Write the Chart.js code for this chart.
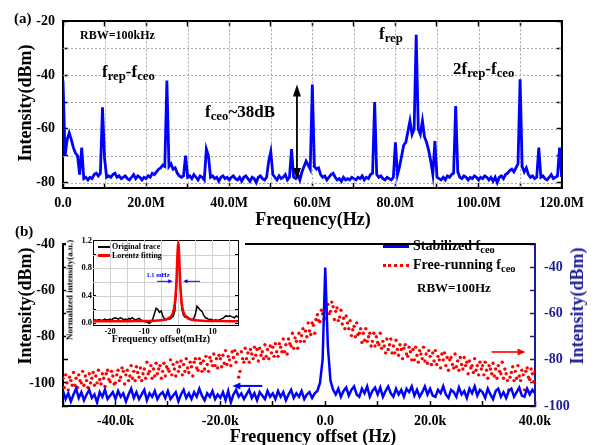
<!DOCTYPE html>
<html>
<head>
<meta charset="utf-8">
<script src="https://cdn.jsdelivr.net/npm/chart.js@4.4.0/dist/chart.umd.min.js"></script>
<style>
  body { margin: 0; background: #fff; }
  #wrap { position: relative; width: 596px; height: 445px; overflow: hidden;
          font-family: 'Liberation Serif', serif; font-weight: bold; color: #000; }
  canvas { position: absolute; }
  .t { position: absolute; white-space: nowrap; line-height: 1; }
  .l { transform: translate(0, -50%); }
  .c { transform: translate(-50%, -50%); }
  .v { transform: translate(-50%, -50%) rotate(-90deg); }
  sub { font-size: 0.75em; vertical-align: -0.3em; line-height: 0; }
</style>
</head>
<body>
<div id="wrap">
  <canvas id="chartA" width="596" height="225" style="left:0;top:0"></canvas>
  <canvas id="chartB" width="596" height="223" style="left:0;top:222px"></canvas>
  <canvas id="chartC" width="179" height="114" style="left:66px;top:231px"></canvas>

  <!-- panel (a) texts -->
  <div class="t l" style="left:14px;top:18px;font-size:15px">(a)</div>
  <div class="t l" style="left:80px;top:35px;font-size:12px">RBW=100kHz</div>
  <div class="t l" style="left:102px;top:71px;font-size:17px">f<sub>rep</sub>-f<sub>ceo</sub></div>
  <div class="t l" style="left:205px;top:111px;font-size:17px">f<sub>ceo</sub>~38dB</div>
  <div class="t l" style="left:379px;top:33px;font-size:17px">f<sub>rep</sub></div>
  <div class="t l" style="left:453px;top:68px;font-size:17px">2f<sub>rep</sub>-f<sub>ceo</sub></div>
  <div class="t v" style="left:25px;top:103px;font-size:18px">Intensity(dBm)</div>
  <div class="t c" style="left:313px;top:219px;font-size:18px">Frequency(Hz)</div>

  <!-- panel (b) texts -->
  <div class="t l" style="left:15px;top:231px;font-size:15px">(b)</div>
  <div class="t v" style="left:25px;top:306px;font-size:18px">Intensity(dBm)</div>
  <div class="t v" style="left:577px;top:306px;font-size:18px;color:#1c1c94">Intensity(dBm)</div>
  <div class="t c" style="left:313px;top:436px;font-size:18px">Frequency offset (Hz)</div>
  <div style="position:absolute;left:383px;top:245px;width:26px;height:3px;background:#0000ff"></div>
  <div class="t l" style="left:413px;top:246px;font-size:14px">Stabilized f<sub>ceo</sub></div>
  <div style="position:absolute;left:383px;top:264px;width:26px;height:0;border-top:3px dotted #ff0000"></div>
  <div class="t l" style="left:413px;top:265px;font-size:14px">Free-running f<sub>ceo</sub></div>
  <div class="t l" style="left:417px;top:287px;font-size:13px">RBW=100Hz</div>

  <!-- inset texts -->
  <div style="position:absolute;left:98px;top:246px;width:12px;height:2px;background:#000"></div>
  <div class="t l" style="left:112px;top:247px;font-size:8px">Original trace</div>
  <div style="position:absolute;left:98px;top:254px;width:12px;height:3px;background:#ff0000"></div>
  <div class="t l" style="left:112px;top:256px;font-size:8px">Lorentz fitting</div>
  <div class="t v" style="left:70px;top:290px;font-size:9px">Normalized intensity(a.u.)</div>
  <div class="t c" style="left:161px;top:339px;font-size:10px">Frequency offset(mHz)</div>
  <div class="t c" style="left:158px;top:275px;font-size:6.5px;color:#0000ff">1.1 mHz</div>
</div>

<script>
Chart.defaults.font.family = "'Liberation Serif', serif";
Chart.defaults.font.weight = 'bold';
Chart.defaults.color = '#000';

/* =========================
   DATA - panel (a), RF spectrum 0-120 MHz, 0.5 MHz step
========================= */
const freqStartA = 0;
const freqStepA = 0.5;
const spectrumA = [
  -42, -70, -64, -61.5, -64, -67, -69, -70, -77, -67,
  -78.5, -78, -79, -78, -78.5, -77, -76.5, -77.5, -76.5, -52,
  -71, -78, -77.5, -78, -77, -76.5, -78, -77.5, -78.5, -78,
  -77.5, -78.5, -79, -78, -77, -78.5, -77.5, -78, -79, -78,
  -78.5, -77.5, -78, -76.5, -77, -76, -75, -74.5, -73.5, -74,
  -42, -74, -73, -75, -74.5, -76.5, -77.5, -78, -77.5, -70,
  -78, -77.5, -78.5, -77, -78, -79, -77.5, -78, -79, -67.5,
  -70, -78, -77.5, -78.5, -78, -79.5, -78, -77.5, -78.5, -78,
  -79, -78, -77.5, -78.5, -79, -78, -79.5, -78, -77.5, -78.5,
  -79.5, -78, -78.5, -80, -78, -77.5, -78.5, -79, -78, -72,
  -68.5, -77, -78, -79, -77.5, -78.5, -78, -77, -79, -78,
  -67.5, -78, -78.5, -77, -79, -76, -74, -72, -73.5, -75,
  -43.5, -74, -75, -74.5, -77, -78, -77.5, -79, -78, -77,
  -76.5, -78, -79, -78.5, -79.5, -78, -79, -78.5, -79, -78,
  -78.5, -79, -78, -78.5, -77.5, -79, -78, -78.5, -77, -76.5,
  -50, -77, -78, -77.5, -78.5, -79, -78, -78.5, -79, -78,
  -65, -77, -74, -70, -66, -65, -61, -57, -62, -60,
  -25, -60, -62, -57, -63, -65, -68, -72, -77, -64.5,
  -78, -78.5, -79, -78, -79, -77.5, -78, -77, -76.5, -51.5,
  -76, -78, -78.5, -77.5, -78, -79, -78, -78.5, -77.5, -78,
  -79, -78, -78.5, -77.5, -78, -79, -78, -79.5, -78, -80,
  -78, -77.5, -78.5, -77, -76.5, -75.5, -75, -76, -74.5, -73,
  -41.5, -74, -76, -74.5, -77, -78, -77.5, -78.5, -78, -67,
  -78, -77.5, -78.5, -79, -78, -77, -78.5, -78, -77.5, -67,
  -78
];
const aXTicks = [0, 20, 40, 60, 80, 100, 120];
const aXTickLabels = ['0.0', '20.0M', '40.0M', '60.0M', '80.0M', '100.0M', '120.0M'];
const aYTicks = [-20, -40, -60, -80];
const aYTickLabels = ['-20', '-40', '-60', '-80'];

/* =========================
   DATA - panel (b), offset in kHz
========================= */
// stabilized fceo, left axis, -50k..40k, 0.5 kHz step
const stabStart = -50;
const stabStep = 0.5;
const stabilized = [
  -103.5, -107, -104.5, -108, -105, -102.5, -106.5, -104, -107.5, -105,
  -103, -106.5, -105, -108.5, -104, -106, -103, -107, -105.5, -104,
  -107, -103.5, -106, -104.5, -108, -105, -102.5, -106.5, -104, -107,
  -105, -103, -107.5, -104.5, -106, -103.5, -107, -105, -104, -106.5,
  -103.5, -107, -105.5, -104, -108, -105, -103, -106.5, -104.5, -107,
  -104, -106, -102.5, -105.5, -107.5, -104.5, -106, -103.5, -107, -105,
  -106.5, -104, -107.5, -103.5, -108.5, -105, -103, -106, -104.5, -107,
  -105, -103, -106.5, -104.5, -107.5, -104, -105.5, -107, -103.5, -106,
  -104.5, -107, -103.5, -106, -104, -107.5, -105, -103, -106.5, -104.5,
  -106, -103.5, -107, -105, -104, -106.5, -104.5, -103.5, -100, -90,
  -50, -84, -99, -103, -105, -102.5, -106, -103.5, -102, -105.5,
  -103, -101.5, -105, -106, -102.5, -104.5, -101.5, -106, -103.5, -102,
  -105, -102, -106, -103.5, -101.5, -104.5, -106, -102.5, -105, -103,
  -106, -102.5, -104, -101.5, -105.5, -103, -106, -104, -101.5, -105,
  -102.5, -105.5, -106, -103, -104.5, -101.5, -105, -106.5, -103, -104,
  -106, -102, -105, -103.5, -106.5, -102.5, -104.5, -101.5, -105.5, -103,
  -104, -106.5, -102.5, -105, -107, -103.5, -102.5, -106, -104, -106.5,
  -103.5, -102.5, -106, -104, -102, -105.5, -106, -102.5, -105, -103,
  -104.5
];
// free-running fceo, right axis, -50k..40k, 0.25 kHz step
const freeStart = -50;
const freeStep = 0.25;
const freeRunning = [
  -88, -92, -86.5, -90,  -93, -87.5, -89, -91,  -85.5, -91, -88, -92,  -86.5, -89, -90, -85,  -91, -87, -89, -92,
  -86, -90, -88, -85.5,  -91, -87, -90, -84.5,  -88.5, -90.5, -86, -88,  -91.5, -86, -84.5, -88.5,  -89.5, -85, -87, -90.5,
  -90, -86.5, -84.5, -89,  -87.5, -83.5, -85, -90.5,  -86.5, -84.5, -89, -87,  -82.5, -88, -85, -89,  -83, -85.5, -87.5, -83.5,
  -89, -86, -84, -88,  -81, -86, -85, -82.5,  -88, -84, -87, -81.5,  -86, -84, -82.5, -88,  -85, -81.5, -87, -83,
  -84, -85, -80, -86.5,  -82, -84, -87, -81,  -85, -83, -80.5, -86.5,  -82, -85, -79.5, -83.5,  -85.5, -81, -83, -87,
  -81, -79.5, -83.5, -84.5,  -79.5, -81.5, -85, -80.5,  -84, -78.5, -82, -85,  -79, -80.5, -82.5, -77.5,  -82.5, -79.5, -83.5, -78,
  -79.5, -83, -78, -81.5,  -76, -82, -78.5, -80,  -82.5, -76.5, -79, -76,  -81, -77.5, -87.5, -85,  -76.5, -79.5, -81, -75,
  -79.5, -77, -81, -75.5,  -77.5, -79.5, -74.5, -78,  -75.5, -80.5, -75, -78,  -76.5, -79.5, -73.5, -78.5,  -75.5, -79.5, -74, -77,
  -74.5, -78.5, -73, -76.5,  -78.5, -73, -74.5, -76.5,  -71, -76.5, -73.5, -77.5,  -71, -73, -74, -68.5,  -75, -70.5, -72, -75,
  -68.5, -72, -69.5, -66.5,  -72, -67.5, -70, -64,  -67.5, -69, -64, -65,  -68.5, -62.5, -60.5, -63,  -63.5, -58.5, -60, -62.5,
  -62, -58, -56, -60,  -59, -55, -57, -62.5,  -59, -57.5, -63, -61.5,  -58.5, -64.5, -62, -66.5,  -61, -64, -66.5, -63,
  -69.5, -67, -65.5, -70,  -64, -69, -68.5, -66.5,  -72.5, -68.5, -71.5, -66.5,  -72, -70, -68.5, -74,  -72, -68.5, -74, -70,
  -72.5, -73.5, -68.5, -75,  -72, -74, -77, -71,  -75.5, -73.5, -71, -77,  -74, -77, -71.5, -75.5,  -78, -73.5, -75.5, -79.5,
  -75, -73.5, -77.5, -78.5,  -74.5, -76.5, -80, -75.5,  -80, -74.5, -78, -81,  -76, -77.5, -79.5, -74.5,  -80.5, -77.5, -81.5, -76,
  -78.5, -82, -77, -80.5,  -76, -82, -78.5, -80,  -83.5, -77.5, -80, -77,  -82.5, -79, -84.5, -80,  -79, -82, -83.5, -77.5,
  -83, -80.5, -84.5, -79,  -82, -84, -79, -82.5,  -81, -86, -80.5, -83.5,  -82.5, -85.5, -79.5, -84.5,  -82.5, -86.5, -81, -84,
  -82.5, -86.5, -81, -84.5,  -88, -82.5, -84, -86,  -81.5, -87, -84, -88,  -82.5, -85, -86, -81,  -88, -84, -86, -89,
  -93, -87.5, -85.5, -83,  -89, -85, -88, -82.5,  -87, -89, -84.5, -86.5,  -93, -85, -83.5, -87.5,  -88.5, -84, -86, -89.5,
  -85
];
const bXTicks = [-40, -20, 0, 20, 40];
const bXTickLabels = ['-40.0k', '-20.0k', '0.0', '20.0k', '40.0k'];
const bYTicks = [-40, -60, -80, -100];
const bYTickLabels = ['-40', '-60', '-80', '-100'];
const bY2Ticks = [-40, -60, -80, -100];
const bY2TickLabels = ['-40', '-60', '-80', '-100'];

/* =========================
   DATA - inset, normalized beat note (mHz)
========================= */
const insetStart = -25;
const insetStep = 0.5;
const originalTrace = [
  0.04, 0.05, 0.04, 0.05, 0.05, 0.04, 0.05, 0.06, 0.05, 0.05,
  0.06, 0.05, 0.07, 0.08, 0.07, 0.06, 0.08, 0.07, 0.05, 0.06,
  0.05, 0.07, 0.06, 0.08, 0.06, 0.05, 0.06, 0.07, 0.05, 0.04,
  0.03, 0.02, 0.01, 0.0, 0.02, 0.06, 0.14, 0.22, 0.2, 0.16,
  0.18, 0.1, 0.06, 0.05, 0.07, 0.06, 0.08, 0.1, 0.18, 0.55,
  1.15, 0.6, 0.22, 0.12, 0.09, 0.1, 0.08, 0.06, 0.05, 0.07,
  0.13, 0.25, 0.22, 0.19, 0.17, 0.11, 0.08, 0.07, 0.05, 0.06,
  0.05, 0.04, 0.05, 0.04, 0.05, 0.06, 0.07, 0.09, 0.11, 0.1,
  0.11, 0.1, 0.09, 0.08, 0.11, 0.09
];
const fitOffsets = [-25, -20, -15, -10, -7, -5, -4, -3, -2.5, -2,
  -1.5, -1.2, -0.9, -0.6, -0.4, -0.2, 0, 0.2, 0.4, 0.6,
  0.9, 1.2, 1.5, 2, 2.5, 3, 4, 5, 7, 10, 15, 17.5];
const fitValues = [0.03, 0.031, 0.031, 0.033, 0.037, 0.044, 0.052, 0.068, 0.084, 0.11,
  0.167, 0.23, 0.345, 0.56, 0.79, 1.055, 1.19, 1.055, 0.79, 0.56,
  0.345, 0.23, 0.167, 0.11, 0.084, 0.068, 0.052, 0.044, 0.037, 0.033, 0.031, 0.03];
const inXTicks = [-20, -10, 0, 10];
const inXTickLabels = ['-20', '-10', '0', '10'];
const inYTicks = [0, 0.4, 0.8, 1.2];
const inYTickLabels = ['0.0', '0.4', '0.8', '1.2'];

/* =========================
   helpers
========================= */
const toPoints = (start, step, values) => values.map((v, i) => ({x: start + i * step, y: v}));
const labeler = (ticks, labels) => v => {
    const i = ticks.findIndex(t => Math.abs(t - v) < 1e-6);
    return i < 0 ? '' : labels[i];
};

function drawHead(ctx, x, y, ang, len, hw) {
    const bx = x - len * Math.cos(ang), by = y - len * Math.sin(ang);
    ctx.beginPath();
    ctx.moveTo(x, y);
    ctx.lineTo(bx + hw * Math.sin(ang), by - hw * Math.cos(ang));
    ctx.lineTo(bx - hw * Math.sin(ang), by + hw * Math.cos(ang));
    ctx.closePath();
    ctx.fill();
}

const arrowPlugin = {
    id: 'arrows',
    afterDatasetsDraw(chart, args, opts) {
        const ctx = chart.ctx;
        (opts.list || []).forEach(a => {
            const xs = chart.scales.x, ys = chart.scales[a.yAxis || 'y'];
            const x1 = xs.getPixelForValue(a.from[0]), y1 = ys.getPixelForValue(a.from[1]);
            const x2 = xs.getPixelForValue(a.to[0]), y2 = ys.getPixelForValue(a.to[1]);
            const ang = Math.atan2(y2 - y1, x2 - x1);
            const dx = Math.cos(ang) * a.head * 0.8, dy = Math.sin(ang) * a.head * 0.8;
            ctx.save();
            ctx.strokeStyle = a.color;
            ctx.fillStyle = a.color;
            ctx.lineWidth = a.width;
            ctx.beginPath();
            ctx.moveTo(a.both ? x1 + dx : x1, a.both ? y1 + dy : y1);
            ctx.lineTo(x2 - dx, y2 - dy);
            ctx.stroke();
            drawHead(ctx, x2, y2, ang, a.head, a.half);
            if (a.both) drawHead(ctx, x1, y1, ang + Math.PI, a.head, a.half);
            ctx.restore();
        });
    }
};

// grid lines at every tick of the x / y scales, drawn under the data
const gridPlugin = {
    id: 'tickGrid',
    beforeDatasetsDraw(chart, args, opts) {
        if (!opts.color) return;
        const {ctx, chartArea: a, scales: {x, y}} = chart;
        ctx.save();
        ctx.strokeStyle = opts.color;
        ctx.lineWidth = 1;
        ctx.setLineDash(opts.dash || []);
        x.ticks.forEach(t => {
            const px = Math.round(x.getPixelForValue(t.value)) + 0.5;
            if (px < a.left + 2 || px > a.right - 2) return;
            ctx.beginPath(); ctx.moveTo(px, a.top); ctx.lineTo(px, a.bottom); ctx.stroke();
        });
        y.ticks.forEach(t => {
            const py = Math.round(y.getPixelForValue(t.value)) + 0.5;
            if (py < a.top + 2 || py > a.bottom - 2) return;
            ctx.beginPath(); ctx.moveTo(a.left, py); ctx.lineTo(a.right, py); ctx.stroke();
        });
        ctx.restore();
    }
};

const whiteBg = {
    id: 'whiteBg',
    beforeDraw(chart) {
        const c = chart.ctx;
        c.save();
        c.fillStyle = '#fff';
        c.fillRect(0, 0, chart.width, chart.height);
        c.restore();
    }
};

const common = {
    responsive: false,
    devicePixelRatio: 1,
    animation: false,
    events: [],
    plugins: {legend: {display: false}, tooltip: {enabled: false}}
};
const tickGrid = (color, len, width) => ({drawOnChartArea: false, tickLength: len, tickColor: color, tickWidth: width});

/* =========================
   1. PANEL (a)
========================= */
new Chart(document.getElementById('chartA'), {
    type: 'line',
    data: {
        datasets: [{
            data: toPoints(freqStartA, freqStepA, spectrumA),
            borderColor: '#0000ff',
            borderWidth: 2.8,
            pointRadius: 0,
            tension: 0
        }]
    },
    options: {
        ...common,
        layout: {padding: {left: 0, right: 32, top: 18, bottom: 0}},
        plugins: {
            ...common.plugins,
            tickGrid: {color: '#a8a8a8', dash: [2, 2]},
            arrows: {list: [
                {from: [56.3, -79], to: [56.3, -43.5], color: '#000', width: 1.8, head: 12, half: 4, both: true}
            ]}
        },
        scales: {
            x: {
                type: 'linear', position: 'bottom', min: 0, max: 120,
                ticks: {stepSize: 10, includeBounds: false, autoSkip: false, maxRotation: 0, padding: 12,
                        font: {size: 14}, callback: labeler(aXTicks, aXTickLabels)},
                grid: tickGrid('#000', -5, 1.5),
                border: {color: '#000', width: 2},
                afterFit: s => { s.height = 37; }
            },
            x2: {
                type: 'linear', position: 'top', min: 0, max: 120,
                ticks: {stepSize: 10, includeBounds: false, display: false},
                grid: tickGrid('#000', -5, 1.5),
                border: {color: '#000', width: 2},
                afterFit: s => { s.height = 0; }
            },
            y: {
                type: 'linear', position: 'left', min: -82, max: -20,
                ticks: {stepSize: 10, includeBounds: false, autoSkip: false, padding: 13,
                        font: {size: 14}, callback: labeler(aYTicks, aYTickLabels)},
                grid: tickGrid('#000', -5, 1.5),
                border: {color: '#000', width: 2},
                afterFit: s => { s.width = 63; }
            },
            y2: {
                type: 'linear', position: 'right', min: -82, max: -20,
                ticks: {stepSize: 10, includeBounds: false, display: false},
                grid: tickGrid('#000', -5, 1.5),
                border: {color: '#000', width: 2},
                afterFit: s => { s.width = 0; }
            }
        }
    },
    plugins: [gridPlugin, arrowPlugin]
});

/* =========================
   2. PANEL (b)
========================= */
const navy = '#1c1c94';
new Chart(document.getElementById('chartB'), {
    type: 'line',
    data: {
        datasets: [{
            data: toPoints(stabStart, stabStep, stabilized),
            yAxisID: 'y',
            borderColor: '#0000ff',
            borderWidth: 2.5,
            pointRadius: 0,
            tension: 0,
            order: 0
        }, {
            data: toPoints(freeStart, freeStep, freeRunning),
            yAxisID: 'y2',
            showLine: false,
            pointRadius: 1.7,
            pointBorderWidth: 0,
            pointBackgroundColor: '#ff0000',
            order: 1
        }]
    },
    options: {
        ...common,
        layout: {padding: {left: 0, right: 0, top: 8, bottom: 0}},
        plugins: {
            ...common.plugins,
            arrows: {list: [
                {from: [-12, -101.3], to: [-17.7, -101.3], yAxis: 'y', color: '#0000ff', width: 2, head: 8, half: 3.5},
                {from: [31.7, -76.6], to: [38.2, -76.6], yAxis: 'y2', color: '#ff0000', width: 1.6, head: 8, half: 3.5}
            ]}
        },
        scales: {
            x: {
                type: 'linear', position: 'bottom', min: -50, max: 40,
                ticks: {stepSize: 10, includeBounds: false, autoSkip: false, maxRotation: 0, padding: 12,
                        font: {size: 14}, callback: labeler(bXTicks, bXTickLabels)},
                grid: tickGrid('#000', -5, 1.5),
                border: {color: '#000', width: 2},
                afterFit: s => { s.height = 39; }
            },
            x2: {
                type: 'linear', position: 'top', min: -50, max: 40,
                ticks: {display: false},
                grid: {drawOnChartArea: false, drawTicks: false},
                border: {color: '#000', width: 2},
                afterFit: s => { s.height = 0; }
            },
            y: {
                type: 'linear', position: 'left', min: -110, max: -40,
                ticks: {stepSize: 10, includeBounds: false, autoSkip: false, padding: 13,
                        font: {size: 14}, callback: labeler(bYTicks, bYTickLabels)},
                grid: tickGrid('#000', -5, 1.5),
                border: {color: '#000', width: 2},
                afterFit: s => { s.width = 63; }
            },
            y2: {
                type: 'linear', position: 'right', min: -100, max: -30,
                ticks: {stepSize: 10, includeBounds: false, autoSkip: false, padding: 14, color: navy,
                        font: {size: 14}, callback: labeler(bY2Ticks, bY2TickLabels)},
                grid: tickGrid(navy, -5, 1.5),
                border: {color: navy, width: 2},
                afterFit: s => { s.width = 61; }
            }
        }
    },
    plugins: [arrowPlugin]
});

/* =========================
   3. INSET
========================= */
new Chart(document.getElementById('chartC'), {
    type: 'line',
    data: {
        datasets: [{
            data: toPoints(insetStart, insetStep, originalTrace),
            borderColor: '#000',
            borderWidth: 1.5,
            pointRadius: 0,
            tension: 0,
            order: 1
        }, {
            data: fitOffsets.map((x, i) => ({x: x, y: fitValues[i]})),
            borderColor: '#ff0000',
            borderWidth: 2.5,
            pointRadius: 0,
            tension: 0.3,
            order: 0
        }]
    },
    options: {
        ...common,
        layout: {padding: {left: 0, right: 7, top: 8, bottom: 0}},
        plugins: {
            ...common.plugins,
            tickGrid: {color: '#d0d0d0'},
            arrows: {list: [
                {from: [-6.2, 0.61], to: [-1.6, 0.61], color: '#0000ff', width: 1, head: 4.5, half: 2},
                {from: [6.4, 0.61], to: [1.4, 0.61], color: '#0000ff', width: 1, head: 4.5, half: 2}
            ]}
        },
        scales: {
            x: {
                type: 'linear', position: 'bottom', min: -25, max: 17.5,
                ticks: {stepSize: 5, includeBounds: false, autoSkip: false, maxRotation: 0, padding: 5,
                        font: {size: 8.5}, callback: labeler(inXTicks, inXTickLabels)},
                grid: tickGrid('#000', -3, 1),
                border: {color: '#000', width: 1},
                afterFit: s => { s.height = 20; }
            },
            x2: {
                type: 'linear', position: 'top', min: -25, max: 17.5,
                ticks: {stepSize: 5, includeBounds: false, display: false},
                grid: tickGrid('#000', -3, 1),
                border: {color: '#000', width: 1},
                afterFit: s => { s.height = 0; }
            },
            y: {
                type: 'linear', position: 'left', min: -0.025, max: 1.21,
                ticks: {stepSize: 0.2, includeBounds: false, autoSkip: false, padding: 4,
                        font: {size: 8.5}, callback: labeler(inYTicks, inYTickLabels)},
                grid: tickGrid('#000', -3, 1),
                border: {color: '#000', width: 1},
                afterFit: s => { s.width = 27; }
            },
            y2: {
                type: 'linear', position: 'right', min: -0.025, max: 1.21,
                ticks: {stepSize: 0.2, includeBounds: false, display: false},
                grid: tickGrid('#000', -3, 1),
                border: {color: '#000', width: 1},
                afterFit: s => { s.width = 0; }
            }
        }
    },
    plugins: [whiteBg, gridPlugin, arrowPlugin]
});
</script>
</body>
</html>
